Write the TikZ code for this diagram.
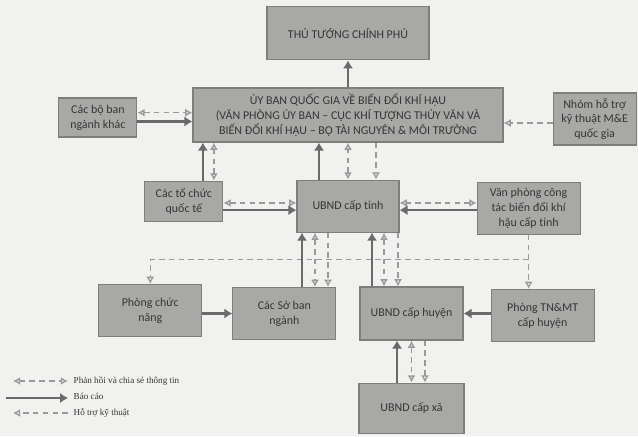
\documentclass[tikz,border=0pt]{standalone}
\usepackage{fontspec}
\setmainfont{Carlito}
\newfontfamily\legendfont{Liberation Serif}
\usepackage{tikz}
\usetikzlibrary{positioning,calc,arrows.meta}
\definecolor{paper}{HTML}{F1F1EF}
\definecolor{boxfill}{HTML}{A8A8A6}
\definecolor{boxline}{HTML}{7E7E7C}
\definecolor{boxtext}{HTML}{353535}
\definecolor{reportgray}{HTML}{6A6A6A}
\definecolor{dashgray}{HTML}{9A9A9A}

\begin{document}
\begin{tikzpicture}[box/.style={rectangle, draw=boxline, line width=0.8pt, fill=boxfill, text=boxtext, align=center, inner sep=1pt, minimum width=2.575cm, minimum height=1.3cm, font=\fontsize{8.5}{10.5}\selectfont}, report/.style={draw=reportgray, line width=1.8pt, -{Latex[length=2mm, width=2.6mm]}}, feedback/.style={draw=dashgray, line width=1pt, dash pattern=on 4pt off 3pt, {Latex[open, length=1.8mm, width=2mm]}-{Latex[open, length=1.8mm, width=2mm]}}, support/.style={draw=dashgray, line width=0.9pt, dash pattern=on 4pt off 3pt, -{Latex[open, length=1.8mm, width=2mm]}}, legendtext/.style={anchor=west, inner sep=1pt, text=boxtext, font=\legendfont\fontsize{6.5}{7}\selectfont}]

\fill[paper] (0,0) rectangle (15.95,10.9);
\useasboundingbox (0,0) rectangle (15.95,10.9);

% BOXES

\node [box, minimum width=7.75cm, minimum height=1.35cm] (ubqg) at (8.7,8.025)
{ỦY BAN QUỐC GIA VỀ BIẾN ĐỔI KHÍ HẬU\\(VĂN PHÒNG ỦY BAN – CỤC KHÍ TƯỢNG THỦY VĂN VÀ\\BIẾN ĐỔI KHÍ HẬU – BỘ TÀI NGUYÊN \& MÔI TRƯỜNG};

\node [box, minimum width=4.05cm, minimum height=1.325cm, above=0.675cm of ubqg] (ttcp) {THỦ TƯỚNG CHÍNH PHỦ};

\node [box, minimum width=1.95cm, minimum height=0.975cm, left=1.375cm of ubqg, yshift=-0.0625cm] (bonganh) {Các bộ ban\\ngành khác};

\node [box, minimum width=2.075cm, minimum height=1.3cm, right=1.225cm of ubqg, yshift=-0.1cm] (me) {Nhóm hỗ trợ\\kỹ thuật M\&E\\quốc gia};

\node [box, minimum width=2.55cm, below=0.925cm of ubqg] (tinh) {UBND cấp tỉnh};

\node [box, minimum width=1.95cm, minimum height=1.0cm, left=1.825cm of tinh, yshift=0.125cm] (tochuc) {Các tổ chức\\quốc tế};

\node [box, right=1.925cm of tinh, yshift=-0.05cm] (vanphong) {Văn phòng công\\tác biến đổi khí\\hậu cấp tỉnh};

\node [box, minimum height=1.325cm] (huyen) at (10.2875,3.0625) {UBND cấp huyện};

\node [box, left=0.575cm of huyen] (soban) {Các Sở ban\\ngành};

\node [box, left=0.75cm of soban, yshift=0.075cm] (phongcn) {Phòng chức\\năng};

\node [box, right=0.675cm of huyen, yshift=-0.05cm] (tnmt) {Phòng TN\&MT\\cấp huyện};

\node [box, minimum width=2.625cm, minimum height=1.25cm, below=1.05cm of huyen] (xa) {UBND cấp xã};

% CONNECTORS

\draw[report] (ubqg.north -| ttcp.south) -- (ttcp.south);

\draw[feedback] ([yshift=0.12cm]bonganh.east) -- ([yshift=0.12cm]bonganh.east -| ubqg.west);
\draw[report] ([yshift=-0.1cm]bonganh.east) -- ([yshift=-0.1cm]bonganh.east -| ubqg.west);

\draw[support] ([yshift=-0.1cm]me.west) -- ([yshift=-0.1cm]me.west -| ubqg.east);

\draw[report] ([xshift=0.475cm]tochuc.north) -- ([xshift=0.475cm]tochuc.north |- ubqg.south);
\draw[feedback] ([xshift=0.75cm]tochuc.north) -- ([xshift=0.75cm]tochuc.north |- ubqg.south);

\draw[report] ([xshift=-0.725cm]tinh.north) -- ([xshift=-0.725cm]tinh.north |- ubqg.south);
\draw[feedback] (tinh.north) -- (tinh.north |- ubqg.south);
\draw[support] ([xshift=0.7cm]tinh.north |- ubqg.south) -- ([xshift=0.7cm]tinh.north);

\draw[feedback] ([yshift=0.08cm]tinh.west -| tochuc.east) -- ([yshift=0.08cm]tinh.west);
\draw[report] ([yshift=-0.1cm]tinh.west -| tochuc.east) -- ([yshift=-0.1cm]tinh.west);

\draw[feedback] ([yshift=0.08cm]tinh.east -| vanphong.west) -- ([yshift=0.08cm]tinh.east);
\draw[report] ([yshift=-0.1cm]tinh.east -| vanphong.west) -- ([yshift=-0.1cm]tinh.east);

% support line from the provincial office
\coordinate (bus) at ([yshift=-0.625cm]vanphong.south);
\draw[support] (bus) -| (phongcn.north);
\draw[support] (vanphong.south) -- (vanphong.south |- tnmt.north);

\draw[report] ([xshift=-1.15cm]tinh.south |- soban.north) -- ([xshift=-1.15cm]tinh.south);
\draw[feedback] ([xshift=-0.825cm]tinh.south) -- ([xshift=-0.825cm]tinh.south |- soban.north);
\draw[support] ([xshift=-0.5cm]tinh.south) -- ([xshift=-0.5cm]tinh.south |- soban.north);

\draw[report] ([xshift=0.6cm]tinh.south |- huyen.north) -- ([xshift=0.6cm]tinh.south);
\draw[feedback] ([xshift=0.9cm]tinh.south) -- ([xshift=0.9cm]tinh.south |- huyen.north);
\draw[support] ([xshift=1.25cm]tinh.south) -- ([xshift=1.25cm]tinh.south |- huyen.north);

\draw[report] (soban.west -| phongcn.east) -- (soban.west);
\draw[report] (huyen.east -| tnmt.west) -- (huyen.east);

\draw[report] ([xshift=-0.3625cm]huyen.south |- xa.north) -- ([xshift=-0.3625cm]huyen.south);
\draw[feedback] (huyen.south) -- (huyen.south |- xa.north);
\draw[support] ([xshift=0.3375cm]huyen.south) -- ([xshift=0.3375cm]huyen.south |- xa.north);

% LEGEND

\coordinate (fbA) at (0.325,1.375);
\coordinate (fbB) at (1.7,1.375);
\coordinate (rpA) at (0.15,0.95);
\coordinate (rpB) at (1.7,0.95);
\coordinate (spA) at (1.7,0.575);
\coordinate (spB) at (0.325,0.575);

\draw[feedback] (fbA) -- (fbB);
\draw[report] (rpA) -- (rpB);
\draw[support] (spA) -- (spB);

\node [legendtext, right=0.1cm of fbB] (fbtext) {Phản hồi và chia sẻ thông tin};
\node [legendtext, right=0.1cm of rpB, yshift=0.05cm] (rptext) {Báo cáo};
\node [legendtext, right=0.1cm of spA] (sptext) {Hỗ trợ kỹ thuật};

\end{tikzpicture}
\end{document}
